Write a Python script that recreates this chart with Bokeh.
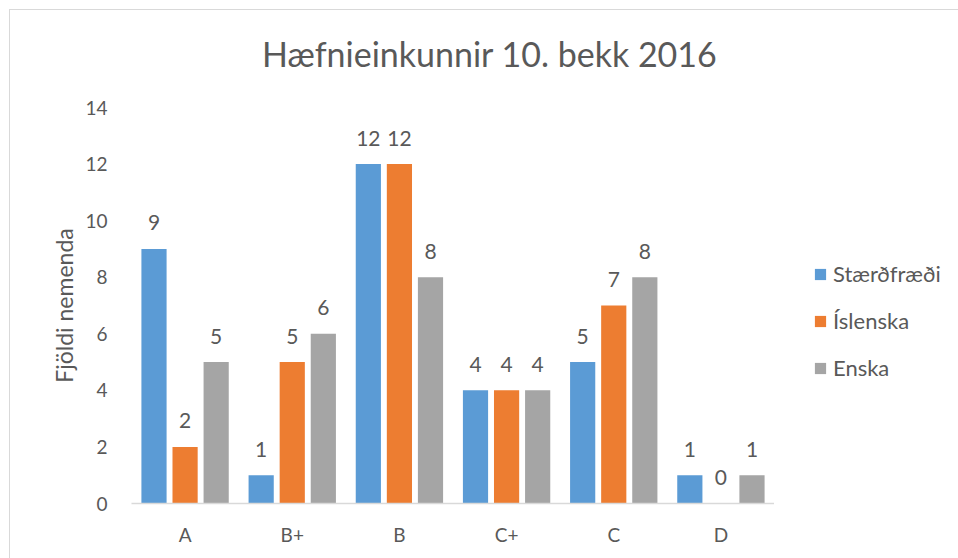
from bokeh.plotting import figure
from bokeh.models import ColumnDataSource, FactorRange, LabelSet, Legend, LegendItem, FixedTicker, Div
from bokeh.layouts import row, column
from bokeh.core.properties import value
from bokeh.transform import dodge
from bokeh.embed import file_html
from bokeh.resources import INLINE

title_text = "Hæfnieinkunnir 10. bekk 2016"
y_label = "Fjöldi nemenda"
categories = ["A", "B+", "B", "C+", "C", "D"]
series_names = ["Stærðfræði", "Íslenska", "Enska"]
staerdfraedi = [9, 1, 12, 4, 5, 1]
islenska = [2, 5, 12, 4, 7, 0]
enska = [5, 6, 8, 4, 8, 1]
y_ticks = [0, 2, 4, 6, 8, 10, 12, 14]

colors = ["#5B9BD5", "#ED7D31", "#A5A5A5"]
TEXT = "#595959"
FONT = "Lato"

source = ColumnDataSource(data=dict(
    cat=categories,
    s1=staerdfraedi, s2=islenska, s3=enska,
    t1=[str(v) for v in staerdfraedi],
    t2=[str(v) for v in islenska],
    t3=[str(v) for v in enska],
))

title_div = Div(
    text=f'<div style="font-family: Lato; font-size: 34px; line-height: 1; color: {TEXT}; '
         f'padding-top: 27px; padding-left: 252px; white-space: nowrap;">{title_text}</div>',
    width=948, height=87, margin=0)

p = figure(x_range=FactorRange(*categories, range_padding=0), y_range=(0, 14),
           width=764, height=461, output_backend="svg", toolbar_location=None,
           min_border_left=121, min_border_right=0, min_border_top=10, min_border_bottom=55)
p.outline_line_color = None

# legend-only panel (its bars have zero width, so only the legend shows)
p2 = figure(x_range=FactorRange(*categories), y_range=(100, 101),
            width=184, height=461, output_backend="svg", toolbar_location=None,
            min_border_left=0, min_border_right=0, min_border_top=0, min_border_bottom=0)
p2.outline_line_color = None
p2.axis.visible = False
p2.grid.grid_line_color = None

offsets = [-0.29, 0.0, 0.29]
fields = ["s1", "s2", "s3"]
tfields = ["t1", "t2", "t3"]
items = []
for f, tf, off, c, name in zip(fields, tfields, offsets, colors, series_names):
    p.vbar(x=dodge("cat", off, range=p.x_range), top=f, width=0.235,
           source=source, fill_color=c, line_color=None)
    r2 = p2.vbar(x=dodge("cat", off, range=p2.x_range), top=f, width=0,
                 source=source, fill_color=c, line_color=None)
    items.append(LegendItem(label=name, renderers=[r2]))
    lbl = LabelSet(x=dodge("cat", off, range=p.x_range), y=f, text=tf, source=source,
                   text_align="center", text_baseline="middle", y_offset=26,
                   text_font=value(FONT), text_font_size=value("21px"), text_color=TEXT)
    p.add_layout(lbl)

legend = Legend(items=items, location=(39, 122), orientation="vertical",
                padding=0, margin=0, spacing=20, label_height=22, glyph_height=14, glyph_width=14,
                label_standoff=6, border_line_color=None, background_fill_alpha=0,
                label_text_font=FONT, label_text_font_size="22px", label_text_color=TEXT)
p2.add_layout(legend, "center")

p.xgrid.grid_line_color = None
p.ygrid.grid_line_color = None

p.yaxis.ticker = FixedTicker(ticks=y_ticks)
p.yaxis.axis_line_color = None
p.yaxis.major_tick_line_color = None
p.yaxis.minor_tick_line_color = None
p.yaxis.major_label_standoff = 18
p.yaxis.axis_label = y_label
p.yaxis.axis_label_standoff = 4
p.yaxis.axis_label_text_font = FONT
p.yaxis.axis_label_text_font_size = "23px"
p.yaxis.axis_label_text_font_style = "normal"
p.yaxis.axis_label_text_color = TEXT
p.yaxis.major_label_text_font = FONT
p.yaxis.major_label_text_font_size = "19px"
p.yaxis.major_label_text_color = TEXT

p.xaxis.axis_line_color = "#D9D9D9"
p.xaxis.axis_line_width = 1.5
p.xaxis.major_tick_line_color = None
p.xaxis.minor_tick_line_color = None
p.xaxis.major_label_standoff = 13
p.xaxis.major_label_text_font = FONT
p.xaxis.major_label_text_font_size = "19px"
p.xaxis.major_label_text_color = TEXT

layout = column(title_div, row(p, p2),
                styles={"border-top": "1px solid #d9d9d9", "border-left": "1px solid #d9d9d9",
                        "margin-left": "9px", "margin-top": "9px"})

open("out.html", "w").write(file_html(layout, INLINE))
